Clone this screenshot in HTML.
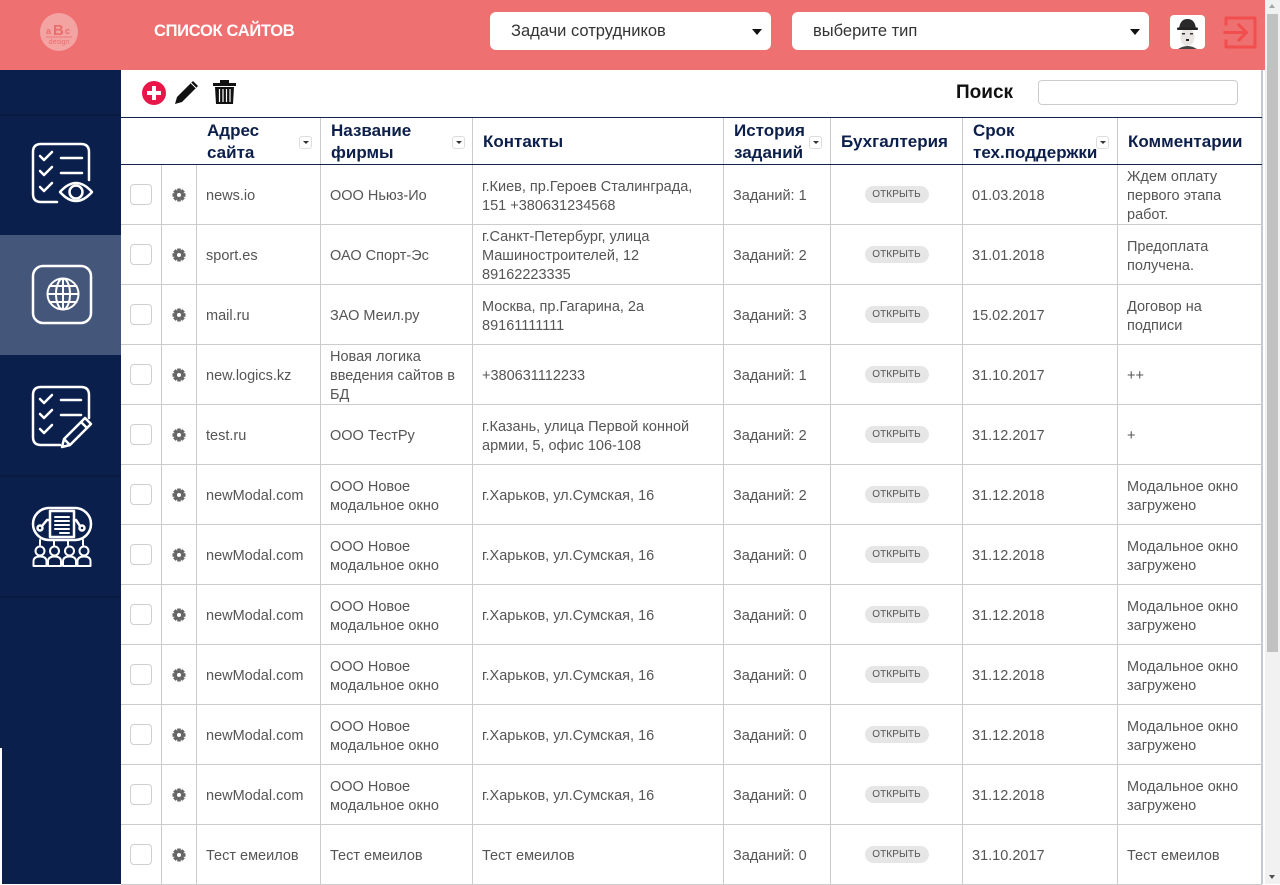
<!DOCTYPE html>
<html><head><meta charset="utf-8">
<style>
*{margin:0;padding:0;box-sizing:border-box}
html,body{width:1280px;height:884px;overflow:hidden;background:#fff;font-family:"Liberation Sans","DejaVu Sans",sans-serif}
.abs{position:absolute}
#hdr{left:0;top:0;width:1265px;height:70px;background:#ee7070}
.dd{background:#fff;border-radius:6px;height:38px;top:12px;display:flex;align-items:center;font-size:16.5px;color:#333;padding-top:1px}
.caret{position:absolute;top:29px;width:0;height:0;border-left:5px solid transparent;border-right:5px solid transparent;border-top:6px solid #111}
#side{left:0;top:70px;width:121px;height:814px;background:#0b1f4c}
.row{position:absolute;left:121px;width:1141px;height:60px;border-bottom:1px solid #ccc}
.c{position:absolute;top:0;bottom:0;display:flex;align-items:center;border-right:1px solid #ccc;padding-left:9px;font-size:14.5px;line-height:19px;color:#555}
.row .c3,.row .c4,.row .c5,.row .c6,.row .c8,.row .c9{padding-top:4px}
.c1{left:0;width:41px}
.c2{left:41px;width:35px;padding-left:0;justify-content:center}
.c3{left:76px;width:124px}
.c4{left:200px;width:152px}
.c5{left:352px;width:251px}
.c6{left:603px;width:107px}
.c7{left:710px;width:132px;padding-left:0;justify-content:center}
.c8{left:842px;width:155px}
.c9{left:997px;width:144px;border-right:none}
.cb{width:22px;height:21px;border:1px solid #cfcfcf;border-radius:4px;background:#fff}
.btn{width:64px;height:17px;border-radius:9px;background:#e6e6e6;color:#555;font-size:10px;display:flex;align-items:center;justify-content:center;letter-spacing:0.1px}
#head{left:121px;top:117px;width:1141px;height:48px;border-top:1px solid #13234a;border-bottom:1px solid #13234a}
#head .c{font-weight:bold;color:#0c1f4a;font-size:17px;line-height:22px;padding-left:10px;padding-top:2px}
.sort{position:absolute;top:18px;width:13px;height:13px;border:1px solid #ddd;border-radius:3px;background:#fff}
.sort:after{content:"";position:absolute;left:3px;top:4px;border-left:3px solid transparent;border-right:3px solid transparent;border-top:3px solid #333}
</style></head><body>

<!-- header -->
<div id="hdr" class="abs"></div>
<svg class="abs" style="left:38px;top:11px" width="42" height="42" viewBox="0 0 42 42">
<circle cx="21" cy="21" r="19" fill="#f4a3a3"/>
<text x="8" y="23" font-family="Liberation Sans" font-weight="bold" font-size="9" fill="#ea6d6d">a</text>
<text x="15" y="24" font-family="Liberation Sans" font-weight="bold" font-size="15" fill="#ea6d6d">B</text>
<text x="27" y="23" font-family="Liberation Sans" font-weight="bold" font-size="9" fill="#ea6d6d">c</text>
<line x1="8" y1="26" x2="34" y2="26" stroke="#ea6d6d" stroke-width="0.8"/>
<text x="21" y="33" text-anchor="middle" font-family="Liberation Sans" font-size="7" fill="#ea6d6d">design</text>
</svg>
<div class="abs" style="left:154px;top:22px;color:#fff;font-weight:bold;font-size:16.5px;letter-spacing:-0.3px">СПИСОК САЙТОВ</div>

<div class="abs dd" style="left:490px;width:281px;padding-left:21px">Задачи сотрудников</div>
<div class="caret" style="left:752px"></div>
<div class="abs dd" style="left:792px;width:357px;padding-left:21px">выберите тип</div>
<div class="caret" style="left:1130px"></div>

<svg class="abs" style="left:1170px;top:15px" width="35" height="34" viewBox="0 0 35 34">
<rect x="0" y="0" width="35" height="34" rx="4" fill="#fff"/>
<ellipse cx="17.5" cy="22" rx="7" ry="9" fill="#e9e5e2"/>
<path d="M9 14 Q10 4 17.5 4 Q25 4 26 14 Z" fill="#2a2a2a"/>
<rect x="7" y="12.5" width="21" height="2.5" rx="1" fill="#222"/>
<rect x="12" y="18" width="3" height="1.5" fill="#333"/><rect x="20" y="18" width="3" height="1.5" fill="#333"/>
<rect x="16" y="24" width="3" height="2" fill="#222"/>
<path d="M8 34 Q17.5 28 27 34 Z" fill="#444"/>
</svg>
<svg class="abs" style="left:1222px;top:14px" width="36" height="36" viewBox="0 0 36 36">
<g fill="none" stroke="#f24e4e" stroke-width="3" stroke-linejoin="round" stroke-linecap="square">
<path d="M4 10 V4 H33 V33 H4 V27"/>
<path d="M3 18.5 H24"/>
<path d="M17 11 L24.5 18.5 L17 26"/>
</g></svg>

<!-- sidebar -->
<div id="side" class="abs"></div>
<div class="abs" style="left:0;top:235px;width:121px;height:120px;background:#45567b"></div>
<div class="abs" style="left:0;top:114px;width:121px;height:2px;background:#081a3f"></div>
<div class="abs" style="left:0;top:475px;width:121px;height:2px;background:#081a3f"></div>
<div class="abs" style="left:0;top:596px;width:121px;height:2px;background:#081a3f"></div>
<div class="abs" style="left:0;top:748px;width:2px;height:136px;background:#fff"></div>

<svg class="abs" style="left:0;top:0" width="121" height="884" viewBox="0 0 121 884">
<g stroke="#fff" stroke-width="2.5" fill="none" stroke-linecap="round" stroke-linejoin="round">
<!-- icon1 -->
<path d="M57 202 H41 Q33 202 33 194 V152 Q33 144 41 144 H81 Q89 144 89 152 V180"/>
<path d="M40 156 l4 4 l8 -8 M40 171 l4 4 l8 -8 M40 187 l4 4 l8 -8"/>
<path d="M61 158 H82 M61 173 H82"/>
<path d="M60 192 Q76 174 92 192 Q76 210 60 192 Z"/>
<circle cx="76" cy="192" r="6.5"/>
<!-- icon2 -->
<rect x="33" y="266" width="58" height="57" rx="10"/>
<circle cx="63" cy="294" r="15.5" stroke-width="2"/>
<ellipse cx="63" cy="294" rx="7" ry="15.5" stroke-width="2"/>
<path d="M63 278.5 V309.5 M47.5 294 H78.5 M49.5 286 H76.5 M49.5 302 H76.5" stroke-width="2"/>
<!-- icon3 -->
<path d="M60 445 H41 Q33 445 33 437 V395 Q33 387 41 387 H81 Q89 387 89 395 V418"/>
<path d="M40 399 l4 4 l8 -8 M40 414 l4 4 l8 -8 M40 429 l4 4 l8 -8"/>
<path d="M61 400 H81 M61 415 H81"/>
<path d="M85 418 L91 424 L70 445 L62 447 L64 439 Z M81 422 L87 428 M64 439 L70 445"/>
<!-- icon4 -->
<rect x="33" y="508" width="58" height="32" rx="16"/>
<rect x="50" y="511" width="24" height="26" fill="#0b1f4c"/>
<path d="M55 517 H69 M55 521 H69 M55 525 H69 M55 529 H69 M60 533 H69" stroke-width="2"/>
<circle cx="40" cy="528" r="2.5"/><path d="M42 526 L47 520 L50 520"/>
<circle cx="82" cy="528" r="2.5"/><path d="M80 526 L76 520 L74 520"/>
<path d="M40 540 V545 M54 540 V545 M68 540 V545 M83 540 V545" stroke-width="2"/>
<g stroke-width="2">
<circle cx="40" cy="551" r="4.5"/><path d="M33.5 566 V561.5 Q33.5 556.5 40 556.5 Q46.5 556.5 46.5 561.5 V566 Z"/>
<circle cx="54.5" cy="551" r="4.5"/><path d="M48 566 V561.5 Q48 556.5 54.5 556.5 Q61 556.5 61 561.5 V566 Z"/>
<circle cx="69.5" cy="551" r="4.5"/><path d="M63 566 V561.5 Q63 556.5 69.5 556.5 Q76 556.5 76 561.5 V566 Z"/>
<circle cx="84" cy="551" r="4.5"/><path d="M77.5 566 V561.5 Q77.5 556.5 84 556.5 Q90.5 556.5 90.5 561.5 V566 Z"/>
</g>
</g>
</svg>

<!-- toolbar -->
<svg class="abs" style="left:140px;top:78px" width="100" height="30" viewBox="140 78 100 30">
<circle cx="154" cy="93" r="12" fill="#e8174a"/>
<path d="M154 86 V100 M147 93 H161" stroke="#fff" stroke-width="4"/>
<path d="M193 81 L198 86 L182 102 L175 104 L177 97 Z" fill="#111"/>
<path d="M191 83 L196 88" stroke="#fff" stroke-width="1"/>
<rect x="213" y="83" width="23" height="3" fill="#111"/>
<rect x="220" y="80" width="9" height="3" fill="#111"/>
<path d="M215 87 H234 L233 104 H216 Z" fill="#111"/>
<path d="M219.5 89 V102 M223 89 V102 M226.5 89 V102 M230 89 V102" stroke="#fff" stroke-width="1.2"/>
</svg>
<div class="abs" style="left:956px;top:82px;font-weight:bold;font-size:19px;color:#111">Поиск</div>
<div class="abs" style="left:1038px;top:80px;width:200px;height:25px;border:1px solid #ccc;border-radius:4px;background:#fff"></div>

<!-- right border -->
<div class="abs" style="left:1261px;top:70px;width:2px;height:814px;background:#c3c9d6"></div>

<!-- table header -->
<div id="head" class="abs">
 <div class="c" style="left:0;width:76px;border-right:none"></div>
 <div class="c c3" style="border-right:1px solid #ccc">Адрес<br>сайта<div class="sort" style="left:102px"></div></div>
 <div class="c c4">Название<br>фирмы<div class="sort" style="left:131px"></div></div>
 <div class="c c5">Контакты</div>
 <div class="c c6">История<br>заданий<div class="sort" style="left:85px"></div></div>
 <div class="c c7" style="justify-content:flex-start;padding-left:10px">Бухгалтерия</div>
 <div class="c c8">Срок<br>тех.поддержки<div class="sort" style="left:133px"></div></div>
 <div class="c c9">Комментарии</div>
</div>

<!-- gear symbol -->
<svg width="0" height="0" style="position:absolute">
<defs>
<g id="gear">
<g fill="#666">
<rect x="-1.8" y="-6.5" width="3.6" height="13"/>
<rect x="-1.8" y="-6.5" width="3.6" height="13" transform="rotate(45)"/>
<rect x="-1.8" y="-6.5" width="3.6" height="13" transform="rotate(90)"/>
<rect x="-1.8" y="-6.5" width="3.6" height="13" transform="rotate(135)"/>
<circle r="4.8"/>
</g>
<circle r="2" fill="#fff"/>
</g>
</defs></svg>

<!-- rows -->
<div class="row" style="top:165px"><div class="c c1"><div class="cb"></div></div><div class="c c2"><svg width="14" height="14" viewBox="-7 -7 14 14"><use href="#gear"/></svg></div><div class="c c3">news.io</div><div class="c c4">ООО Ньюз-Ио</div><div class="c c5">г.Киев, пр.Героев Сталинграда,<br>151 +380631234568</div><div class="c c6">Заданий: 1</div><div class="c c7"><div class="btn">ОТКРЫТЬ</div></div><div class="c c8">01.03.2018</div><div class="c c9">Ждем оплату<br>первого этапа<br>работ.</div></div>

<div class="row" style="top:225px"><div class="c c1"><div class="cb"></div></div><div class="c c2"><svg width="14" height="14" viewBox="-7 -7 14 14"><use href="#gear"/></svg></div><div class="c c3">sport.es</div><div class="c c4">ОАО Спорт-Эс</div><div class="c c5">г.Санкт-Петербург, улица<br>Машиностроителей, 12<br>89162223335</div><div class="c c6">Заданий: 2</div><div class="c c7"><div class="btn">ОТКРЫТЬ</div></div><div class="c c8">31.01.2018</div><div class="c c9">Предоплата<br>получена.</div></div>

<div class="row" style="top:285px"><div class="c c1"><div class="cb"></div></div><div class="c c2"><svg width="14" height="14" viewBox="-7 -7 14 14"><use href="#gear"/></svg></div><div class="c c3">mail.ru</div><div class="c c4">ЗАО Меил.ру</div><div class="c c5">Москва, пр.Гагарина, 2а<br>89161111111</div><div class="c c6">Заданий: 3</div><div class="c c7"><div class="btn">ОТКРЫТЬ</div></div><div class="c c8">15.02.2017</div><div class="c c9">Договор на<br>подписи</div></div>

<div class="row" style="top:345px"><div class="c c1"><div class="cb"></div></div><div class="c c2"><svg width="14" height="14" viewBox="-7 -7 14 14"><use href="#gear"/></svg></div><div class="c c3">new.logics.kz</div><div class="c c4">Новая логика<br>введения сайтов в<br>БД</div><div class="c c5">+380631112233</div><div class="c c6">Заданий: 1</div><div class="c c7"><div class="btn">ОТКРЫТЬ</div></div><div class="c c8">31.10.2017</div><div class="c c9">++</div></div>

<div class="row" style="top:405px"><div class="c c1"><div class="cb"></div></div><div class="c c2"><svg width="14" height="14" viewBox="-7 -7 14 14"><use href="#gear"/></svg></div><div class="c c3">test.ru</div><div class="c c4">ООО ТестРу</div><div class="c c5">г.Казань, улица Первой конной<br>армии, 5, офис 106-108</div><div class="c c6">Заданий: 2</div><div class="c c7"><div class="btn">ОТКРЫТЬ</div></div><div class="c c8">31.12.2017</div><div class="c c9">+</div></div>

<div class="row" style="top:465px"><div class="c c1"><div class="cb"></div></div><div class="c c2"><svg width="14" height="14" viewBox="-7 -7 14 14"><use href="#gear"/></svg></div><div class="c c3">newModal.com</div><div class="c c4">ООО Новое<br>модальное окно</div><div class="c c5">г.Харьков, ул.Сумская, 16</div><div class="c c6">Заданий: 2</div><div class="c c7"><div class="btn">ОТКРЫТЬ</div></div><div class="c c8">31.12.2018</div><div class="c c9">Модальное окно<br>загружено</div></div>

<div class="row" style="top:525px"><div class="c c1"><div class="cb"></div></div><div class="c c2"><svg width="14" height="14" viewBox="-7 -7 14 14"><use href="#gear"/></svg></div><div class="c c3">newModal.com</div><div class="c c4">ООО Новое<br>модальное окно</div><div class="c c5">г.Харьков, ул.Сумская, 16</div><div class="c c6">Заданий: 0</div><div class="c c7"><div class="btn">ОТКРЫТЬ</div></div><div class="c c8">31.12.2018</div><div class="c c9">Модальное окно<br>загружено</div></div>

<div class="row" style="top:585px"><div class="c c1"><div class="cb"></div></div><div class="c c2"><svg width="14" height="14" viewBox="-7 -7 14 14"><use href="#gear"/></svg></div><div class="c c3">newModal.com</div><div class="c c4">ООО Новое<br>модальное окно</div><div class="c c5">г.Харьков, ул.Сумская, 16</div><div class="c c6">Заданий: 0</div><div class="c c7"><div class="btn">ОТКРЫТЬ</div></div><div class="c c8">31.12.2018</div><div class="c c9">Модальное окно<br>загружено</div></div>

<div class="row" style="top:645px"><div class="c c1"><div class="cb"></div></div><div class="c c2"><svg width="14" height="14" viewBox="-7 -7 14 14"><use href="#gear"/></svg></div><div class="c c3">newModal.com</div><div class="c c4">ООО Новое<br>модальное окно</div><div class="c c5">г.Харьков, ул.Сумская, 16</div><div class="c c6">Заданий: 0</div><div class="c c7"><div class="btn">ОТКРЫТЬ</div></div><div class="c c8">31.12.2018</div><div class="c c9">Модальное окно<br>загружено</div></div>

<div class="row" style="top:705px"><div class="c c1"><div class="cb"></div></div><div class="c c2"><svg width="14" height="14" viewBox="-7 -7 14 14"><use href="#gear"/></svg></div><div class="c c3">newModal.com</div><div class="c c4">ООО Новое<br>модальное окно</div><div class="c c5">г.Харьков, ул.Сумская, 16</div><div class="c c6">Заданий: 0</div><div class="c c7"><div class="btn">ОТКРЫТЬ</div></div><div class="c c8">31.12.2018</div><div class="c c9">Модальное окно<br>загружено</div></div>

<div class="row" style="top:765px"><div class="c c1"><div class="cb"></div></div><div class="c c2"><svg width="14" height="14" viewBox="-7 -7 14 14"><use href="#gear"/></svg></div><div class="c c3">newModal.com</div><div class="c c4">ООО Новое<br>модальное окно</div><div class="c c5">г.Харьков, ул.Сумская, 16</div><div class="c c6">Заданий: 0</div><div class="c c7"><div class="btn">ОТКРЫТЬ</div></div><div class="c c8">31.12.2018</div><div class="c c9">Модальное окно<br>загружено</div></div>

<div class="row" style="top:825px"><div class="c c1"><div class="cb"></div></div><div class="c c2"><svg width="14" height="14" viewBox="-7 -7 14 14"><use href="#gear"/></svg></div><div class="c c3">Тест емеилов</div><div class="c c4">Тест емеилов</div><div class="c c5">Тест емеилов</div><div class="c c6">Заданий: 0</div><div class="c c7"><div class="btn">ОТКРЫТЬ</div></div><div class="c c8">31.10.2017</div><div class="c c9">Тест емеилов</div></div>

<!-- scrollbar -->
<div class="abs" style="left:1265px;top:0;width:15px;height:884px;background:#f1f1f1"></div>
<div class="abs" style="left:1267px;top:14px;width:11px;height:638px;background:#c1c1c1"></div>
<div class="abs" style="left:1269px;top:4px;width:0;height:0;border-left:3.5px solid transparent;border-right:3.5px solid transparent;border-bottom:4px solid #a3a3a3"></div>
<div class="abs" style="left:1269px;top:875px;width:0;height:0;border-left:3.5px solid transparent;border-right:3.5px solid transparent;border-top:4px solid #505050"></div>

</body></html>
